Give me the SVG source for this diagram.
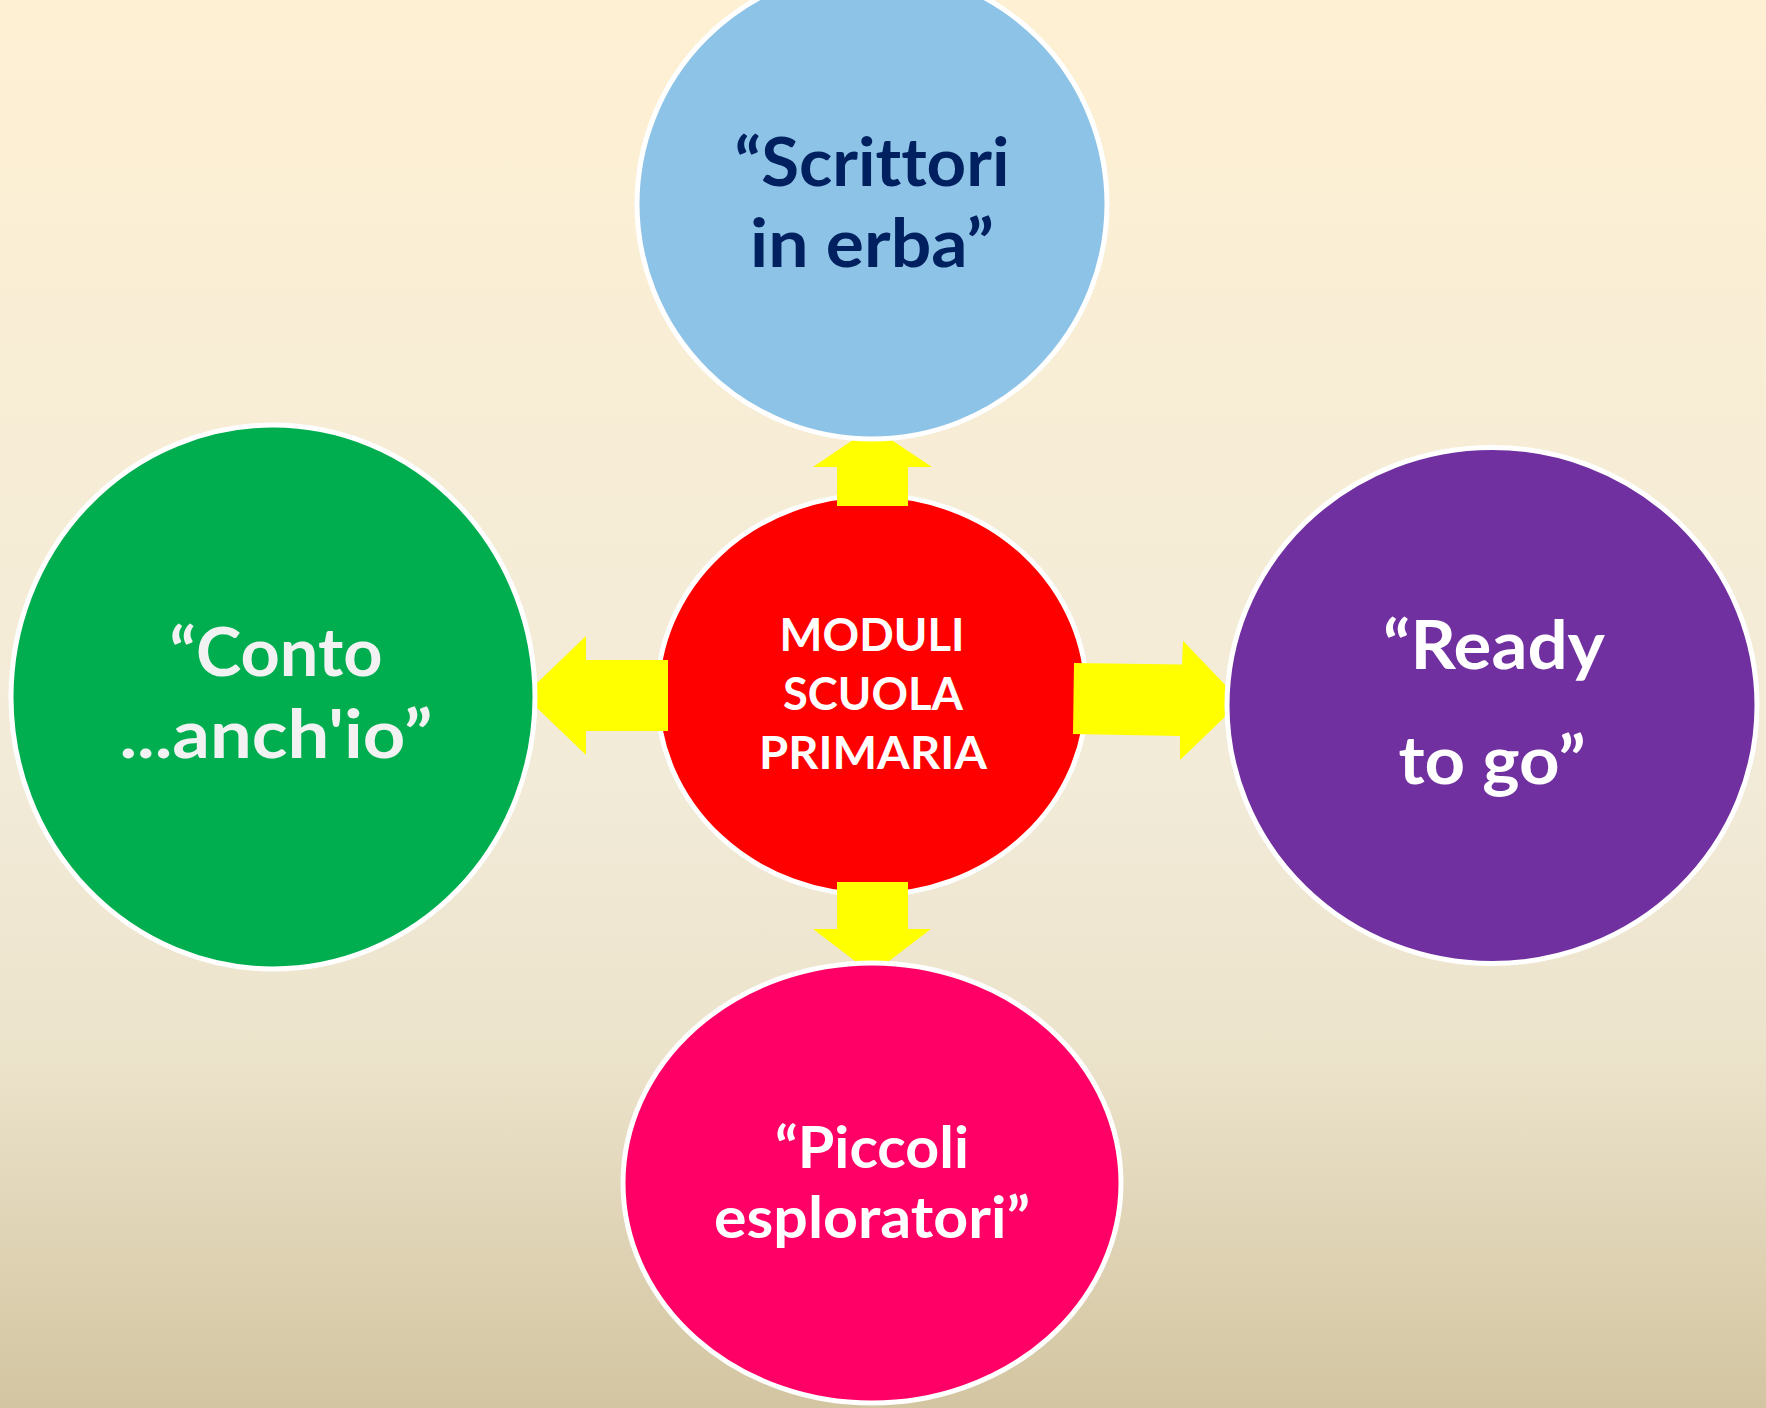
<svg xmlns="http://www.w3.org/2000/svg" width="1766" height="1408" viewBox="0 0 1766 1408">
  <defs>
    <linearGradient id="bg" x1="0" y1="0" x2="0" y2="1">
      <stop offset="0" stop-color="#FEF0D3"/>
      <stop offset="0.55" stop-color="#F2EBD8"/>
      <stop offset="0.75" stop-color="#ECE3CB"/>
      <stop offset="1" stop-color="#D3C5A1"/>
    </linearGradient>
  </defs>
  <style>
    .node { stroke: #FFFFFF; stroke-width: 5; }
    .arrow { fill: #FFFF00; stroke: none; }
    text { font-family: Lato, "Open Sans", "Liberation Sans", sans-serif; font-weight: bold; text-anchor: middle; font-variant-ligatures: none; }
    .big { font-size: 67px; }
    .mid { font-size: 58px; }
    .small { font-size: 46px; }
    .white { fill: #FFFFFF; }
    .grey { fill: #F2F2F2; }
    .navy { fill: #002060; }
  </style>
  <rect x="0" y="0" width="1766" height="1408" fill="url(#bg)"/>

  <g id="center">
    <ellipse class="node" cx="872" cy="695" rx="215" ry="200" fill="#FF0000"/>
  </g>

  <g id="connectors">
    <polygon class="arrow" points="837,506 837,467 813,467 872,427 932,467 908,467 908,506"/>
    <polygon class="arrow" points="837,882 908,882 908,929 931,929 872,974 813,929 837,929"/>
    <polygon class="arrow" points="668,660 668,731 586,731 586,755 524,695.5 586,636 586,660"/>
    <polygon class="arrow" points="1074,663 1182,664.5 1183,640.7 1241,701.5 1180,760 1180,736 1073,734"/>
  </g>

  <g id="center-label">
    <text class="small white" x="872" y="651" textLength="185" lengthAdjust="spacingAndGlyphs">MODULI</text>
    <text class="small white" x="873" y="710" textLength="180" lengthAdjust="spacingAndGlyphs">SCUOLA</text>
    <text class="small white" x="873" y="769" textLength="228" lengthAdjust="spacingAndGlyphs">PRIMARIA</text>
  </g>

  <g id="scrittori">
    <ellipse class="node" cx="872" cy="204" rx="235" ry="235" fill="#8DC3E6"/>
    <text class="big navy" x="872" y="186" textLength="275" lengthAdjust="spacingAndGlyphs">“Scrittori</text>
    <text class="big navy" x="872" y="267" textLength="244" lengthAdjust="spacingAndGlyphs">in erba”</text>
  </g>

  <g id="conto">
    <ellipse class="node" cx="273" cy="697" rx="262" ry="272" fill="#00AE50"/>
    <text class="big grey" x="276" y="676" textLength="213" lengthAdjust="spacingAndGlyphs">“Conto</text>
    <text class="big grey" x="276" y="758" textLength="313" lengthAdjust="spacingAndGlyphs">...anch'io”</text>
  </g>

  <g id="ready">
    <ellipse class="node" cx="1492" cy="705.5" rx="265" ry="258" fill="#7030A0"/>
    <text class="big white" x="1494" y="669" textLength="222" lengthAdjust="spacingAndGlyphs">“Ready</text>
    <text class="big white" x="1492" y="784" textLength="187" lengthAdjust="spacingAndGlyphs">to go”</text>
  </g>

  <g id="piccoli">
    <ellipse class="node" cx="872" cy="1183" rx="249" ry="220" fill="#FF0066"/>
    <text class="mid white" x="872" y="1168" textLength="194" lengthAdjust="spacingAndGlyphs">“Piccoli</text>
    <text class="mid white" x="872" y="1238" textLength="316" lengthAdjust="spacingAndGlyphs">esploratori”</text>
  </g>
</svg>
